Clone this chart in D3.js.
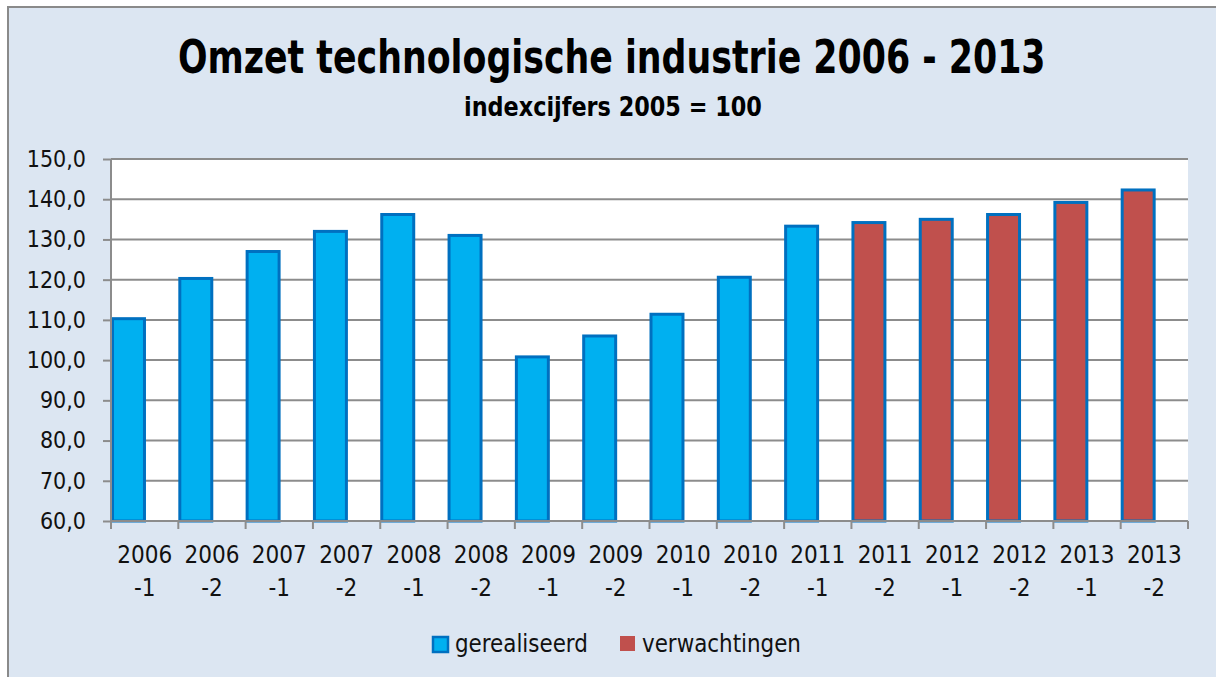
<!DOCTYPE html>
<html>
<head>
<meta charset="utf-8">
<script src="https://cdn.jsdelivr.net/npm/d3@7"></script>
<style>
  html, body { margin: 0; padding: 0; background: #fff; }
  svg { display: block; }
  text { font-family: "Liberation Sans Narrow", "Arial Narrow", "DejaVu Sans Condensed", sans-serif; }
</style>
</head>
<body>
<div id="chart-area"></div>
<script>
const W = 1216, H = 677
const PLOT = { LEFT: 111, RIGHT: 1188, TOP: 159, BOTTOM: 521 }

const periods = ["2006-1", "2006-2", "2007-1", "2007-2", "2008-1", "2008-2", "2009-1", "2009-2",
  "2010-1", "2010-2", "2011-1", "2011-2", "2012-1", "2012-2", "2013-1", "2013-2"]
const realised = [110.3, 120.3, 127.0, 132.0, 136.2, 131.0, 100.8, 106.0,
  111.4, 120.6, 133.3, null, null, null, null, null]
const expected = [null, null, null, null, null, null, null, null,
  null, null, null, 134.2, 135.0, 136.2, 139.2, 142.3]
const yTicks = [60, 70, 80, 90, 100, 110, 120, 130, 140, 150]
const seriesNames = ["gerealiseerd", "verwachtingen"]

const BLUE = "#00b0f0", EDGE = "#0070c0", RED = "#c0504d", GRID = "#8c8c8c"

const svg = d3.select("#chart-area").append("svg")
  .attr("width", W)
  .attr("height", H)

// chart background and border
svg.append("rect")
  .attr("x", 8).attr("y", 7)
  .attr("width", W + 20).attr("height", H + 20)
  .attr("fill", "#dce6f2")
  .attr("stroke", "#8a8a8a")
  .attr("stroke-width", 2)

// squeeze a text horizontally so it spans `width` starting at x
function narrowText(x0, y0, width, size, bold, str) {
  const t = svg.append("text")
    .attr("font-family", "Liberation Sans, Arial, sans-serif")
    .attr("font-size", size)
    .attr("font-weight", bold ? "bold" : null)
    .attr("fill", "#111")
    .text(str)
  const k = width / t.node().getComputedTextLength()
  t.attr("transform", `translate(${x0},${y0}) scale(${k},1)`)
  return t
}

narrowText(178, 73, 868, 47, true, "Omzet technologische industrie 2006 - 2013").attr("fill", "#000")
narrowText(464, 116, 298, 27, true, "indexcijfers 2005 = 100").attr("fill", "#000")

const x = d3.scaleBand()
  .domain(periods)
  .range([PLOT.LEFT, PLOT.RIGHT])
  .padding(0)

const y = d3.scaleLinear()
  .domain([60, 150])
  .range([PLOT.BOTTOM, PLOT.TOP])

svg.append("rect")
  .attr("x", PLOT.LEFT).attr("y", PLOT.TOP)
  .attr("width", PLOT.RIGHT - PLOT.LEFT)
  .attr("height", PLOT.BOTTOM - PLOT.TOP)
  .attr("fill", "#fff")

// y axis with gridlines
const yAxis = svg.append("g")
  .attr("transform", `translate(${PLOT.LEFT},0)`)
  .call(d3.axisLeft(y)
    .tickValues(yTicks)
    .tickSize(8)
    .tickPadding(17)
    .tickFormat(d => d.toFixed(1).replace(".", ",")))
yAxis.select(".domain").remove()
yAxis.selectAll(".tick line").attr("stroke", GRID).attr("stroke-width", 2)
yAxis.selectAll(".tick text")
  .attr("font-size", 23)
  .attr("fill", "#111")
  .attr("font-family", null)

svg.append("g")
  .selectAll("line")
  .data(yTicks)
  .join("line")
    .attr("x1", PLOT.LEFT).attr("x2", PLOT.RIGHT)
    .attr("y1", d => y(d)).attr("y2", d => y(d))
    .attr("stroke", GRID)
    .attr("stroke-width", 2)

// bars
const barW = x.bandwidth() * 0.475
const rows = periods.map((p, i) => ({ p, v: realised[i] ?? expected[i], kind: realised[i] != null ? 0 : 1 }))

svg.append("g")
  .selectAll("rect")
  .data(rows)
  .join("rect")
    .attr("x", d => x(d.p) + 1.5)
    .attr("width", barW)
    .attr("y", d => y(d.v))
    .attr("height", d => y(60) - y(d.v))
    .attr("fill", d => d.kind === 0 ? BLUE : RED)
    .attr("stroke", EDGE)
    .attr("stroke-width", 3)

// x axis
const xAxis = svg.append("g")
  .attr("transform", `translate(0,${PLOT.BOTTOM})`)
  .call(d3.axisBottom(x).tickSize(0).tickFormat(""))
xAxis.select(".domain").attr("stroke", GRID).attr("stroke-width", 2)
  .attr("d", `M${PLOT.LEFT},0H${PLOT.RIGHT}`)
xAxis.selectAll(".tick").remove()

svg.append("g")
  .selectAll("line")
  .data(periods.concat(["end"]))
  .join("line")
    .attr("x1", (d, i) => PLOT.LEFT + i * x.step())
    .attr("x2", (d, i) => PLOT.LEFT + i * x.step())
    .attr("y1", PLOT.BOTTOM).attr("y2", PLOT.BOTTOM + 8)
    .attr("stroke", GRID)
    .attr("stroke-width", 2)

// left axis line
svg.append("line")
  .attr("x1", PLOT.LEFT).attr("x2", PLOT.LEFT)
  .attr("y1", PLOT.TOP).attr("y2", PLOT.BOTTOM)
  .attr("stroke", GRID).attr("stroke-width", 2)

const xl = svg.append("g")
  .selectAll("text")
  .data(periods)
  .join("text")
    .attr("x", d => x(d) + x.bandwidth() / 2)
    .attr("text-anchor", "middle")
    .attr("font-size", 24)
    .attr("fill", "#111")
xl.append("tspan").attr("x", d => x(d) + x.bandwidth() / 2).attr("y", 563).text(d => d.split("-")[0])
xl.append("tspan").attr("x", d => x(d) + x.bandwidth() / 2).attr("y", 596).text(d => "-" + d.split("-")[1])

// legend
svg.append("rect")
  .attr("x", 433).attr("y", 637).attr("width", 15).attr("height", 15)
  .attr("fill", BLUE).attr("stroke", EDGE).attr("stroke-width", 2.5)
narrowText(455, 652, 133, 25, false, seriesNames[0])
svg.append("rect")
  .attr("x", 620).attr("y", 636).attr("width", 15).attr("height", 15)
  .attr("fill", RED)
narrowText(642, 652, 159, 25, false, seriesNames[1])
</script>
</body>
</html>
